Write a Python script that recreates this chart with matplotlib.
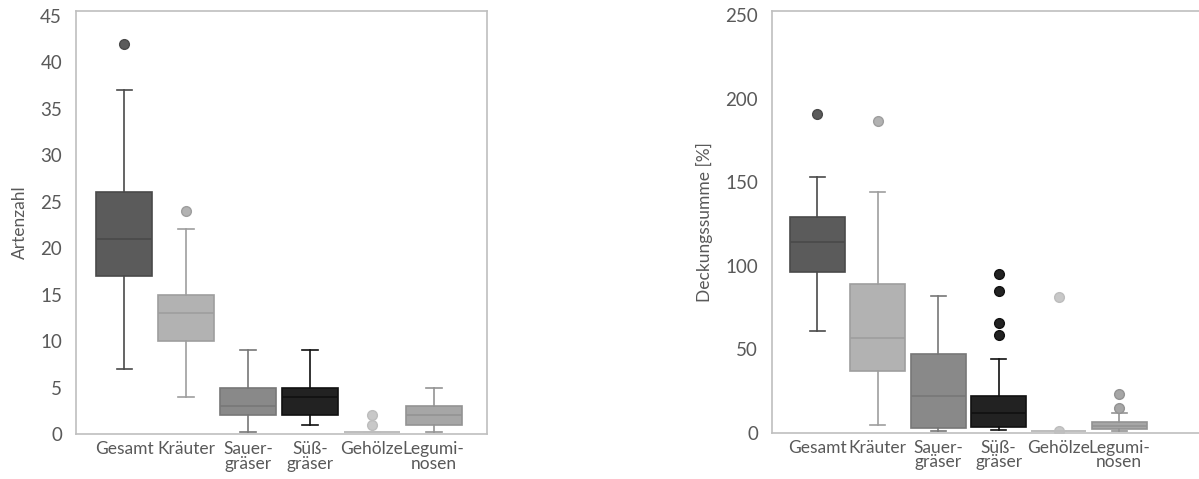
import matplotlib
matplotlib.use("Agg")
import matplotlib.pyplot as plt

plt.rcParams['font.family'] = ['Lato', 'DejaVu Sans']

labels = ["Gesamt", "Kräuter", "Sauer-\ngräser", "Süß-\ngräser", "Gehölze", "Legumi-\nnosen"]
fills = ["#5b5b5b", "#b2b2b2", "#898989", "#222222", "#c8c8c8", "#a6a6a6"]
edges = ["#4a4a4a", "#9e9e9e", "#777777", "#111111", "#bdbdbd", "#939393"]

# Artenzahl: whislo, q1, med, q3, whishi, fliers
arten_lo = [7, 4, 0.2, 1, 0.2, 0.2]
arten_q1 = [17, 10, 2, 2, 0.2, 1]
arten_med = [21, 13, 3, 4, 0.2, 2]
arten_q3 = [26, 15, 5, 5, 0.2, 3]
arten_hi = [37, 22, 9, 9, 0.2, 5]
arten_fl = [[42], [24], [], [], [1, 2], []]

# Deckungssumme [%]
deck_lo = [61, 4.6, 1, 1.6, 1, 1]
deck_q1 = [96, 37, 3, 3.6, 1, 2.2]
deck_med = [114, 56.5, 22, 11.6, 1, 4.2]
deck_q3 = [129, 89, 47, 22, 1, 6.4]
deck_hi = [153, 144, 81.6, 44, 1, 11.6]
deck_fl = [[191], [186.5], [], [94.8, 85, 65.5, 58.5], [81.4, 1], [23, 15]]


def make_stats(lo, q1, med, q3, hi, fl):
    stats = []
    for i in range(len(labels)):
        stats.append(dict(whislo=lo[i], q1=q1[i], med=med[i], q3=q3[i],
                          whishi=hi[i], fliers=fl[i], label=labels[i]))
    return stats


def draw(ax, stats):
    for i, s in enumerate(stats):
        ax.bxp([s], positions=[i], widths=0.91, capwidths=0.25, patch_artist=True,
               boxprops=dict(facecolor=fills[i], edgecolor=edges[i], linewidth=1.2),
               medianprops=dict(color=edges[i], linewidth=1.2),
               whiskerprops=dict(color=edges[i], linewidth=1.2),
               capprops=dict(color=edges[i], linewidth=1.2),
               flierprops=dict(marker='o', markersize=7, markerfacecolor=fills[i],
                               markeredgecolor=edges[i], markeredgewidth=1))
    ax.set_xticks(range(len(labels)))
    ax.set_xticklabels(labels, linespacing=0.9)
    for sp in ax.spines.values():
        sp.set_color("#bfbfbf")
        sp.set_linewidth(1.2)
    ax.tick_params(length=0, colors="#595959")
    ax.tick_params(axis='y', pad=10, labelsize=13.5)
    ax.tick_params(axis='x', pad=5, labelsize=12.5)


fig = plt.figure(figsize=(11.99, 4.79), dpi=100)
ax1 = fig.add_axes([0.0634, 0.0939, 0.3428, 0.8831])
ax2 = fig.add_axes([0.6439, 0.0967, 0.3611, 0.8803])

draw(ax1, make_stats(arten_lo, arten_q1, arten_med, arten_q3, arten_hi, arten_fl))
ax1.set_xlim(-0.78, 5.86)
ax1.set_ylim(0, 45.5)
ax1.set_yticks(range(0, 46, 5))
ax1.set_ylabel("Artenzahl", fontsize=12.5, color="#595959", labelpad=9)

draw(ax2, make_stats(deck_lo, deck_q1, deck_med, deck_q3, deck_hi, deck_fl))
ax2.set_xlim(-0.753, 6.42)
ax2.set_ylim(0, 252.5)
ax2.set_yticks(range(0, 251, 50))
ax2.set_ylabel("Deckungssumme [%]", fontsize=12.5, color="#595959", labelpad=9)

fig.savefig("out.png", dpi=100)
